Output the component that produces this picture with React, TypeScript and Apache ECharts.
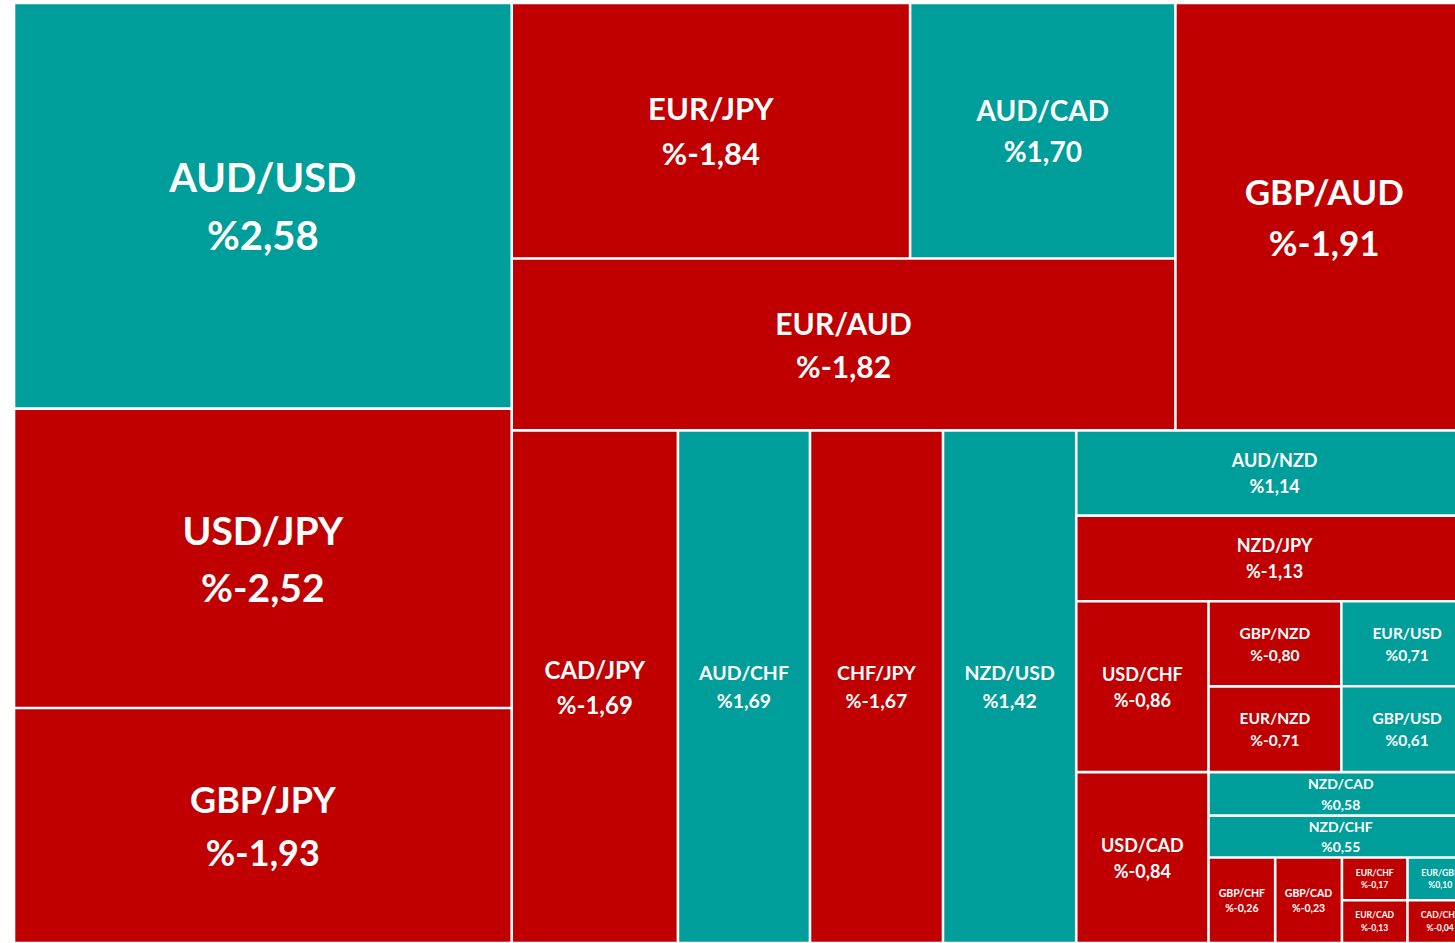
import React, { useEffect, useRef } from "react";
import * as echarts from "echarts";

// Currency pairs, their weekly change (%) and the cell size
const PAIRS = [
  "AUD/USD", "USD/JPY", "GBP/JPY", "GBP/AUD", "EUR/JPY", "EUR/AUD", "AUD/CAD",
  "CAD/JPY", "AUD/CHF", "CHF/JPY", "NZD/USD", "AUD/NZD", "NZD/JPY", "USD/CHF",
  "USD/CAD", "GBP/NZD", "EUR/USD", "EUR/NZD", "GBP/USD", "NZD/CAD", "NZD/CHF",
  "GBP/CHF", "GBP/CAD", "EUR/CHF", "EUR/GBP", "EUR/CAD", "CAD/CHF",
];
const CHANGES = [
  2.58, -2.52, -1.93, -1.91, -1.84, -1.82, 1.7,
  -1.69, 1.69, -1.67, 1.42, 1.14, -1.13, -0.86,
  -0.84, -0.8, 0.71, -0.71, 0.61, 0.58, 0.55,
  -0.26, -0.23, -0.17, 0.1, -0.13, -0.04,
];
const SIZES = [
  201.9, 149.0, 117.0, 127.2, 101.8, 114.1, 67.8,
  85.2, 67.7, 68.2, 68.3, 33.8, 34.0, 22.6,
  22.6, 11.3, 11.2, 11.4, 11.3, 11.5, 11.1,
  5.7, 5.7, 2.8, 2.8, 2.8, 2.8,
];

// Grouping of the pairs (slice-and-dice: cut direction alternates with depth)
type Group = string | Group[];
const GROUPS: Group[] = [
  ["AUD/USD", "USD/JPY", "GBP/JPY"],
  [
    [[["EUR/JPY", "AUD/CAD"], "EUR/AUD"], "GBP/AUD"],
    [
      "CAD/JPY", "AUD/CHF", "CHF/JPY", "NZD/USD",
      [
        "AUD/NZD", "NZD/JPY",
        [
          ["USD/CHF", "USD/CAD"],
          [
            [["GBP/NZD", "EUR/NZD"], ["EUR/USD", "GBP/USD"]],
            "NZD/CAD", "NZD/CHF",
            ["GBP/CHF", "GBP/CAD", [["EUR/CHF", "EUR/GBP"], ["EUR/CAD", "CAD/CHF"]]],
          ],
        ],
      ],
    ],
  ],
];

// Styling
const TEAL = "#009E9A";
const RED = "#C00000";
const LABEL_FONT: Record<string, number> = {
  "AUD/USD": 40, "USD/JPY": 39, "GBP/JPY": 36, "GBP/AUD": 35, "EUR/JPY": 31,
  "EUR/AUD": 30, "AUD/CAD": 28, "CAD/JPY": 24, "AUD/CHF": 19.5, "CHF/JPY": 19.5,
  "NZD/USD": 19.5, "AUD/NZD": 18, "NZD/JPY": 18, "USD/CHF": 18, "USD/CAD": 18,
  "GBP/NZD": 15.5, "EUR/USD": 15.5, "EUR/NZD": 15.5, "GBP/USD": 15.5,
  "NZD/CAD": 14, "NZD/CHF": 14, "GBP/CHF": 10.5, "GBP/CAD": 10.5,
  "EUR/CHF": 8.6, "EUR/GBP": 8.6, "EUR/CAD": 8.6, "CAD/CHF": 8.6,
};
const GAP = 1.3;

function weightOf(node: Group): number {
  if (typeof node === "string") return SIZES[PAIRS.indexOf(node)];
  return node.reduce((s: number, c) => s + weightOf(c), 0);
}

type Cell = { name: string; x0: number; y0: number; x1: number; y1: number };

function sliceAndDice(
  node: Group, x0: number, y0: number, x1: number, y1: number, depth: number, out: Cell[]
) {
  if (typeof node === "string") {
    out.push({ name: node, x0, y0, x1, y1 });
    return;
  }
  const total = weightOf(node);
  let acc = 0;
  node.forEach((child) => {
    const w = weightOf(child);
    const a = acc / total;
    const b = (acc + w) / total;
    if (depth % 2 === 0) {
      sliceAndDice(child, x0 + (x1 - x0) * a, y0, x0 + (x1 - x0) * b, y1, depth + 1, out);
    } else {
      sliceAndDice(child, x0, y0 + (y1 - y0) * a, x1, y0 + (y1 - y0) * b, depth + 1, out);
    }
    acc += w;
  });
}

function fmt(v: number): string {
  return "%" + v.toFixed(2).replace(".", ",");
}

export default function App() {
  const ref = useRef<HTMLDivElement>(null);
  useEffect(() => {
    if (!ref.current) return;
    const chart = echarts.init(ref.current, null, { renderer: "svg" });
    const cells: Cell[] = [];
    sliceAndDice(GROUPS, 0, 0, 1, 1, 0, cells);
    const data = cells.map((c) => {
      const i = PAIRS.indexOf(c.name);
      return { name: c.name, value: [c.x0, c.y0, c.x1, c.y1, CHANGES[i], i] };
    });
    const renderItem = (_params: any, api: any) => {
      const p0 = api.coord([api.value(0), api.value(1)]);
      const p1 = api.coord([api.value(2), api.value(3)]);
      const chg = api.value(4) as number;
      const idx = api.value(5) as number;
      const name = PAIRS[idx];
      const x = Math.min(p0[0], p1[0]) + GAP;
      const y = Math.min(p0[1], p1[1]) + GAP;
      const w = Math.abs(p1[0] - p0[0]) - 2 * GAP;
      const h = Math.abs(p1[1] - p0[1]) - 2 * GAP;
      const fs = LABEL_FONT[name] || 12;
      return {
        type: "group",
        children: [
          {
            type: "rect",
            shape: { x, y, width: w, height: h },
            style: { fill: chg >= 0 ? TEAL : RED },
          },
          {
            type: "text",
            x: x + w / 2,
            y: y + h / 2,
            style: {
              text: name + "\n" + fmt(chg),
              fill: "#ffffff",
              fontSize: fs,
              fontFamily: "Lato",
              fontWeight: "bold",
              align: "center",
              verticalAlign: "middle",
              lineHeight: fs * 1.45,
            },
          },
        ],
      };
    };
    chart.setOption({
      animation: false,
      grid: { left: 14, top: 3, width: 1459, height: 940 },
      xAxis: { type: "value", min: 0, max: 1, show: false },
      yAxis: { type: "value", min: 0, max: 1, inverse: true, show: false },
      series: [{ type: "custom", renderItem, data, clip: false }],
    });
    return () => chart.dispose();
  }, []);
  return (
    <div
      style={{
        position: "fixed",
        left: 0,
        top: 0,
        width: 1455,
        height: 943,
        overflow: "hidden",
        background: "#ffffff",
      }}
    >
      <div ref={ref} style={{ position: "absolute", left: 0, top: 0, width: 1480, height: 943 }} />
    </div>
  );
}
